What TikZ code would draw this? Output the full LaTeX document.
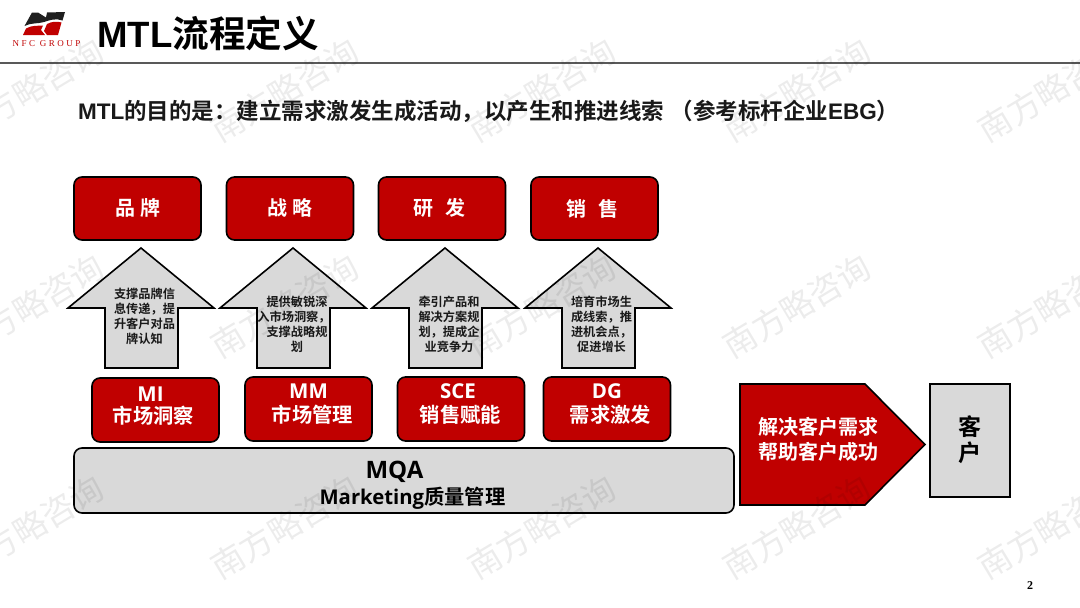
\documentclass[tikz,border=0pt]{standalone}
\usepackage{fontspec}
\setmainfont{Liberation Sans}
\newfontfamily\cjk{Noto Sans CJK SC}
\newfontfamily\cjkb{Noto Sans CJK SC Bold}
\newfontfamily\opn{Open Sans}
\newfontfamily\logofont[LetterSpace=28]{Liberation Serif}
\newcommand{\fs}[1]{\fontsize{#1pt}{#1pt}\selectfont}
\newcommand{\LB}[1]{{\bfseries #1}}
\newcommand{\CB}[1]{{\cjkb #1}}
\newcommand{\OB}[1]{{\opn\bfseries #1}}
\definecolor{nfcred}{HTML}{C00000}
\definecolor{nfcgray}{HTML}{D9D9D9}
\tikzset{
 redbox/.style={draw=black,line width=1.6pt,fill=nfcred,rounded corners=8pt},
 graybox/.style={draw=black,line width=1.6pt,fill=nfcgray},
 upshape/.style={draw=black,line width=1.6pt,fill=nfcgray,line join=miter},
 whitelabel/.style={text=white,align=center,inner sep=0pt},
 blacklabel/.style={text=black,align=center,inner sep=0pt},
 arrowtext/.style={text=black!90,align=center,inner sep=0pt,font=\fs{12.2}\cjkb},
 wmark/.style={text=black,text opacity=0.075,rotate=31,inner sep=0pt,font=\fs{33}\cjk},
}
\newcommand{\uparrowshape}[2]{% centre x, name
 \draw[upshape] (#1,248) -- (#1+73,308) -- (#1+37,308) -- (#1+37,368) -- (#1-36,368) -- (#1-36,308) -- (#1-73,308) -- cycle;
}
\begin{document}
\begin{tikzpicture}[x=1pt,y=-1pt]
\useasboundingbox (0,0) rectangle (1080,608);
\fill[white] (0,0) rectangle (1080,608);
% logo
\fill[black!88] (32,12.5) -- (38,12.5) -- (46,17.5) -- (47,12.5) -- (65,12) -- (62.5,20.5) .. controls (56,18) and (50,20) .. (44,22) .. controls (38,24) and (31,22.5) .. (24.5,26) -- cycle;
\fill[nfcred] (26,28.5) .. controls (32,25) and (38,26) .. (43,25.5) -- (41,30) -- (45,35) -- (23,35) -- cycle;
\fill[nfcred] (47,24) .. controls (52,21.5) and (57,21) .. (61.5,22.5) -- (58,35) -- (47,35) -- (44,31) -- cycle;
\node[text=nfcred,inner sep=0pt,font=\fs{9}\logofont] (logotext) at (46.5,43.5) {NFC\ GROUP};
% title
\node[anchor=west,inner sep=0pt,text=black,font=\fs{36.6}] (title) at (97,33) {\LB{MTL}\CB{流程定义}};
\draw[draw=black!65,line width=1.6pt] (0,63) -- (1080,63);
\node[anchor=west,inner sep=0pt,text=black!90,font=\fs{22.5}] (sub) at (78,111) {\LB{MTL}\CB{的目的是：建立需求激发生成活动，以产生和推进线索}\LB{\ }\CB{（参考标杆企业}\LB{EBG}\CB{）}};
% top red boxes
\node[redbox,minimum width=127pt,minimum height=63pt,inner sep=0pt] (b1) at (137.5,208.5) {};
\node[redbox,minimum width=127pt,minimum height=63pt,inner sep=0pt] (b2) at (290,208.5) {};
\node[redbox,minimum width=127pt,minimum height=63pt,inner sep=0pt] (b3) at (442,208.5) {};
\node[redbox,minimum width=127pt,minimum height=63pt,inner sep=0pt] (b4) at (594.5,208.5) {};
\node[whitelabel,font=\fs{20}\cjkb] (t1) at (137.5,208) {品\hspace{5pt}牌};
\node[whitelabel,font=\fs{20}\cjkb] (t2) at (290,208) {战\hspace{5pt}略};
\node[whitelabel,font=\fs{20}\cjkb] (t3) at (439.5,208) {研\hspace{12pt}发};
\node[whitelabel,font=\fs{20}\cjkb] (t4) at (592,209) {销\hspace{12pt}售};
% up arrows
\uparrowshape{141}{a1}
\uparrowshape{293}{a2}
\uparrowshape{445}{a3}
\uparrowshape{598}{a4}
\node[arrowtext] (a1l1) at (144.5,293.5) {支撑品牌信};
\node[arrowtext] (a1l2) at (144.5,309) {息传递，提};
\node[arrowtext] (a1l3) at (144.5,324) {升客户对品};
\node[arrowtext] (a1l4) at (144.5,339) {牌认知};
\node[arrowtext] (a2l1) at (297,302) {提供敏锐深};
\node[arrowtext] (a2l2) at (294,317) {入市场洞察，};
\node[arrowtext] (a2l3) at (297,332) {支撑战略规};
\node[arrowtext] (a2l4) at (297,347) {划};
\node[arrowtext] (a3l1) at (449,302) {牵引产品和};
\node[arrowtext] (a3l2) at (449,317) {解决方案规};
\node[arrowtext] (a3l3) at (449,332) {划，提成企};
\node[arrowtext] (a3l4) at (449,347) {业竞争力};
\node[arrowtext] (a4l1) at (601.5,302) {培育市场生};
\node[arrowtext] (a4l2) at (601.5,317) {成线索，推};
\node[arrowtext] (a4l3) at (601.5,332) {进机会点，};
\node[arrowtext] (a4l4) at (601.5,347) {促进增长};
% middle red boxes
\node[redbox,minimum width=127pt,minimum height=64pt,inner sep=0pt] (m1) at (155.5,410) {};
\node[redbox,minimum width=127pt,minimum height=64pt,inner sep=0pt] (m2) at (308.5,409) {};
\node[redbox,minimum width=127pt,minimum height=64pt,inner sep=0pt] (m3) at (461,409) {};
\node[redbox,minimum width=127pt,minimum height=64pt,inner sep=0pt] (m4) at (607,409) {};
\node[whitelabel,font=\fs{20.5}] (m1a) at (150.5,394) {\OB{MI}};
\node[whitelabel,font=\fs{20.3}] (m1b) at (153.5,416) {\CB{市场洞察}};
\node[whitelabel,font=\fs{20.5}] (m2a) at (308.5,391) {\OB{MM}};
\node[whitelabel,font=\fs{20.3}] (m2b) at (312.5,415) {\CB{市场管理}};
\node[whitelabel,font=\fs{20.5}] (m3a) at (458,391) {\OB{SCE}};
\node[whitelabel,font=\fs{20.3}] (m3b) at (460.5,415) {\CB{销售赋能}};
\node[whitelabel,font=\fs{20.5}] (m4a) at (607,391) {\OB{DG}};
\node[whitelabel,font=\fs{20.3}] (m4b) at (610.5,415) {\CB{需求激发}};
% MQA
\node[graybox,rounded corners=8pt,minimum width=660pt,minimum height=65pt,inner sep=0pt] (mqa) at (404,480.5) {};
\node[blacklabel,font=\fs{24}] (mqa1) at (394.5,471.5) {\OB{MQA}};
\node[blacklabel,font=\fs{20.3}] (mqa2) at (412.5,498) {\OB{Marketing}\CB{质量管理}};
% pentagon
\draw[draw=black,line width=1.6pt,fill=nfcred] (740,384) -- (865,384) -- (925,444.5) -- (865,505) -- (740,505) -- cycle;
\node[whitelabel,font=\fs{20}\cjkb] (p1) at (818,427) {解决客户需求};
\node[whitelabel,font=\fs{20}\cjkb] (p2) at (818,451.5) {帮助客户成功};
% customer
\node[graybox,minimum width=80pt,minimum height=113pt,inner sep=0pt] (cust) at (970,440.5) {};
\node[blacklabel,font=\fs{23}\cjkb] (c1) at (970,427) {客};
\node[blacklabel,font=\fs{23}\cjkb] (c2) at (970,453) {户};
% page number
\node[inner sep=0pt,text=black,font=\fs{12}\fontspec{Liberation Serif}\bfseries] (pg) at (1030,586) {2};
% watermarks
\foreach \r/\yy in {1/90,2/306,3/527}{
 \foreach \c/\xx in {1/30,2/285,3/542,4/797,5/1052}{
  \node[wmark] (w\r\c) at (\xx,\yy) {南方略咨询};
 }
}
\end{tikzpicture}
\end{document}
